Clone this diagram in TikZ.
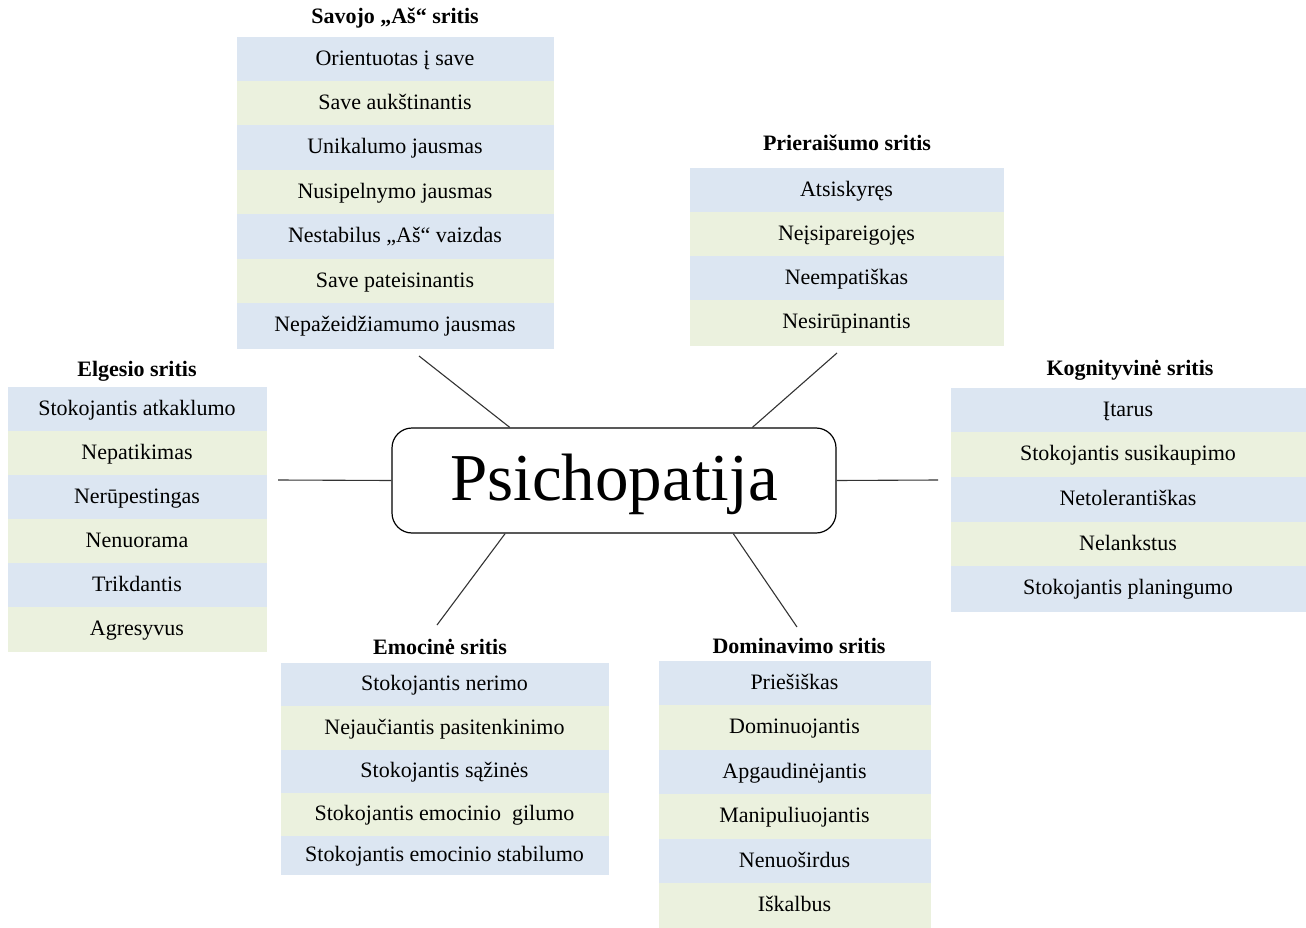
\documentclass[tikz,border=0pt]{standalone}
\usepackage{fontspec}
\setmainfont{Liberation Serif}
\usetikzlibrary{positioning}

\definecolor{rowblue}{HTML}{DCE6F2}
\definecolor{rowgreen}{HTML}{EBF1DE}

\tikzset{
	head/.style={font=\fontsize{22}{26}\selectfont\bfseries, inner sep=0pt},
	row/.style={inner sep=0pt, outer sep=0pt, minimum height=44.4pt, text height=16pt, text depth=4pt, line width=0.6pt, font=\fontsize{22}{26}\selectfont},
	blue row/.style={row, fill=rowblue, draw=rowblue},
	green row/.style={row, fill=rowgreen, draw=rowgreen},
	core/.style={draw, line width=1.2pt, rounded corners=20pt, minimum width=444pt, minimum height=105pt, text height=50pt, text depth=11pt, font=\fontsize{67}{70}\selectfont},
	spoke/.style={draw=black!80, line width=1.1pt},
}

\begin{document}
\begin{tikzpicture}[x=1pt, y=-1pt]
        \useasboundingbox (0,0) rectangle (1306,928);

        % Central node
        \node[core] (core) at (614,480.5) {Psichopatija};

        % Savojo "As" sritis
        \begin{scope}[every node/.append style={minimum width=316pt}]
        \node[head] (selfhead) at (395,18) {Savojo „Aš“ sritis};
        \node[blue row] (self1) at (395,59.2) {Orientuotas į save};
        \node[green row, below=0pt of self1] (self2) {Save aukštinantis};
        \node[blue row, below=0pt of self2] (self3) {Unikalumo jausmas};
        \node[green row, below=0pt of self3] (self4) {Nusipelnymo jausmas};
        \node[blue row, below=0pt of self4] (self5) {Nestabilus „Aš“ vaizdas};
        \node[green row, below=0pt of self5] (self6) {Save pateisinantis};
        \node[blue row, below=0pt of self6] (self7) {Nepažeidžiamumo jausmas};
        \end{scope}

        % Prieraisumo sritis
        \begin{scope}[every node/.append style={minimum width=313pt}]
        \node[head] (bondhead) at (847,143) {Prieraišumo sritis};
        \node[blue row, minimum height=44.2pt] (bond1) at (846.5,190.1) {Atsiskyręs};
        \node[green row, minimum height=44.2pt, below=0pt of bond1] (bond2) {Neįsipareigojęs};
        \node[blue row, minimum height=44.2pt, below=0pt of bond2] (bond3) {Neempatiškas};
        \node[green row, minimum height=44.2pt, below=0pt of bond3] (bond4) {Nesirūpinantis};
        \end{scope}

        % Elgesio sritis
        \begin{scope}[every node/.append style={minimum width=258pt}]
        \node[head] (acthead) at (137,371) {Elgesio sritis};
        \node[blue row, minimum height=44pt] (act1) at (137,409) {Stokojantis atkaklumo};
        \node[green row, minimum height=44pt, below=0pt of act1] (act2) {Nepatikimas};
        \node[blue row, minimum height=44pt, below=0pt of act2] (act3) {Nerūpestingas};
        \node[green row, minimum height=44pt, below=0pt of act3] (act4) {Nenuorama};
        \node[blue row, minimum height=44pt, below=0pt of act4] (act5) {Trikdantis};
        \node[green row, minimum height=44pt, below=0pt of act5] (act6) {Agresyvus};
        \end{scope}

        % Kognityvine sritis
        \begin{scope}[every node/.append style={minimum width=354pt}]
        \node[head] (cognhead) at (1130,370) {Kognityvinė sritis};
        \node[blue row, minimum height=44.6pt] (cogn1) at (1128,410.3) {Įtarus};
        \node[green row, minimum height=44.6pt, below=0pt of cogn1] (cogn2) {Stokojantis susikaupimo};
        \node[blue row, minimum height=44.6pt, below=0pt of cogn2] (cogn3) {Netolerantiškas};
        \node[green row, minimum height=44.6pt, below=0pt of cogn3] (cogn4) {Nelankstus};
        \node[blue row, minimum height=44.6pt, below=0pt of cogn4] (cogn5) {Stokojantis planingumo};
        \end{scope}

        % Emocine sritis
        \begin{scope}[every node/.append style={minimum width=327pt}]
        \node[head] (emohead) at (440,647) {Emocinė sritis};
        \node[blue row, minimum height=43.4pt] (emo1) at (444.5,684.7) {Stokojantis nerimo};
        \node[green row, minimum height=43.4pt, below=0pt of emo1] (emo2) {Nejaučiantis pasitenkinimo};
        \node[blue row, minimum height=43.4pt, below=0pt of emo2] (emo3) {Stokojantis sąžinės};
        \node[green row, minimum height=43.4pt, below=0pt of emo3] (emo4) {Stokojantis emocinio\ \ gilumo};
        \node[blue row, minimum height=38pt, below=0pt of emo4] (emo5) {Stokojantis emocinio stabilumo};
        \end{scope}

        % Dominavimo sritis
        \begin{scope}[every node/.append style={minimum width=271pt}]
        \node[head] (domhead) at (799,646) {Dominavimo sritis};
        \node[blue row, minimum height=44.5pt] (dom1) at (794.5,683.25) {Priešiškas};
        \node[green row, minimum height=44.5pt, below=0pt of dom1] (dom2) {Dominuojantis};
        \node[blue row, minimum height=44.5pt, below=0pt of dom2] (dom3) {Apgaudinėjantis};
        \node[green row, minimum height=44.5pt, below=0pt of dom3] (dom4) {Manipuliuojantis};
        \node[blue row, minimum height=44.5pt, below=0pt of dom4] (dom5) {Nenuoširdus};
        \node[green row, minimum height=44.5pt, below=0pt of dom5] (dom6) {Iškalbus};
        \end{scope}

        % Spoke ends
        \coordinate (selftip) at (419,356);
        \coordinate (bondtip) at (837,353);
        \coordinate (acttip) at (278,480);
        \coordinate (cogntip) at (938,480);
        \coordinate (emotip) at (437,625);
        \coordinate (domtip) at (797,627);

        % Spokes
        \draw[spoke] (selftip) -- (core.153);
        \draw[spoke] (bondtip) -- (core.21);
        \draw[spoke] (acttip) -- (core.west);
        \draw[spoke] (cogntip) -- (core.east);
        \draw[spoke] (emotip) -- (core.206);
        \draw[spoke] (domtip) -- (core.336);
\end{tikzpicture}
\end{document}
